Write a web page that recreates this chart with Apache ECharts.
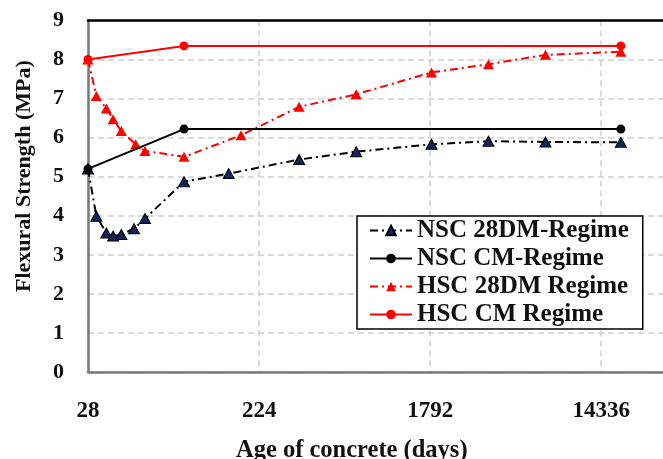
<!DOCTYPE html>
<html>
<head>
<meta charset="utf-8">
<script src="https://cdn.jsdelivr.net/npm/echarts@6/dist/echarts.min.js"></script>
<style>
html,body{margin:0;padding:0;background:#fff;}
#c{width:663px;height:459px;}
</style>
</head>
<body>
<div id="c"></div>
<script>
// Data
const seriesNames = ['NSC 28DM-Regime', 'NSC CM-Regime', 'HSC 28DM Regime', 'HSC CM Regime'];
const xTicks = [28, 224, 1792, 14336];
const yTicks = [0, 1, 2, 3, 4, 5, 6, 7, 8, 9];

const nsc28Days = [28, 31, 35, 38, 42, 49, 56, 90, 155, 365, 730, 1825, 3650, 7300, 18250];
const nsc28Vals = [5.2, 3.99, 3.56, 3.48, 3.52, 3.67, 3.93, 4.87, 5.08, 5.44, 5.64, 5.83, 5.91, 5.89, 5.88];

const nscCmDays = [28, 90, 18250];
const nscCmVals = [5.2, 6.22, 6.22];

const hsc28Days = [28, 31, 35, 38, 42, 50, 56, 90, 180, 365, 730, 1825, 3650, 7300, 18250];
const hsc28Vals = [8.0, 7.07, 6.75, 6.47, 6.17, 5.83, 5.66, 5.51, 6.06, 6.79, 7.11, 7.67, 7.88, 8.12, 8.2];

const hscCmDays = [28, 90, 18250];
const hscCmVals = [8.0, 8.35, 8.35];

function pairs(xs, ys) { return xs.map((x, i) => [x, ys[i]]); }
function tickLabel(v) {
  // show the nearest reference tick label (log scale rounds tick values slightly)
  let best = '', bestD = Infinity;
  xTicks.forEach(t => {
    const d = Math.abs(Math.log2(v) - Math.log2(t));
    if (d < bestD) { bestD = d; best = String(t); }
  });
  return bestD < 0.05 ? best : '';
}

const FONT = 'Liberation Serif';
const dashDot = [8, 4, 2, 4];

const chart = echarts.init(document.getElementById('c'), null, {renderer: 'canvas'});
chart.setOption({
  animation: false,
  backgroundColor: '#ffffff',
  grid: {
    left: 88, top: 20.5, bottom: 87, right: -52,
    outerBoundsMode: 'none',
    containLabel: false
  },
  xAxis: [
    {
      type: 'log',
      logBase: 2,
      min: xTicks[0],
      max: 57344,
      interval: 3,
      axisLine: {show: true, lineStyle: {color: '#7a7a7a', width: 2.5}},
      axisTick: {show: false},
      splitLine: {show: true, lineStyle: {color: '#cfcfcf', type: [6, 4], width: 1.5}},
      axisLabel: {
        margin: 28,
        fontFamily: FONT, fontWeight: 'bold', fontSize: 23, color: '#111',
        formatter: tickLabel
      }
    },
    {
      type: 'log',
      logBase: 2,
      position: 'top',
      min: xTicks[0],
      max: 57344,
      interval: 3,
      z: 3,
      axisLine: {show: true, onZero: false, lineStyle: {color: '#000', width: 2.5}},
      axisTick: {show: false},
      axisLabel: {show: false},
      splitLine: {show: false}
    }
  ],
  yAxis: {
    type: 'value',
    min: yTicks[0], max: yTicks[yTicks.length - 1], interval: 1,
    axisLine: {show: true, lineStyle: {color: '#7a7a7a', width: 2.5}},
    axisTick: {show: false},
    splitLine: {show: true, lineStyle: {color: '#cfcfcf', type: [6, 4], width: 1.5}},
    axisLabel: {
      margin: 24,
      fontFamily: FONT, fontWeight: 'bold', fontSize: 22, color: '#111'
    }
  },
  legend: {
    orient: 'vertical',
    left: 357, top: 216,
    padding: [2, 14, 2, 12],
    itemGap: 3,
    itemWidth: 42, itemHeight: 12,
    itemTextGap: 6,
    backgroundColor: '#fff',
    borderColor: '#000', borderWidth: 1.5,
    textStyle: {fontFamily: FONT, fontWeight: 'bold', fontSize: 25, color: '#111', lineHeight: 25},
    data: seriesNames
  },
  graphic: [
    {
      type: 'text', left: 236, top: 438,
      style: {text: 'Age of concrete (days)', fontFamily: FONT, fontWeight: 'bold', fontSize: 24.5, fill: '#111'}
    },
    {
      type: 'text',
      rotation: Math.PI / 2,
      x: 24, y: 292,
      style: {text: 'Flexural Strength (MPa)', fontFamily: FONT, fontWeight: 'bold', fontSize: 22, fill: '#111',
              textAlign: 'left', textVerticalAlign: 'middle'}
    }
  ],
  series: [
    {
      name: seriesNames[0], type: 'line', z: 2,
      data: pairs(nsc28Days, nsc28Vals),
      symbol: 'triangle', symbolSize: [11, 10],
      lineStyle: {color: '#000', width: 2, type: dashDot},
      itemStyle: {color: '#14245a', borderColor: '#000', borderWidth: 1}
    },
    {
      name: seriesNames[1], type: 'line', z: 4,
      data: pairs(nscCmDays, nscCmVals),
      symbol: 'circle', symbolSize: 9,
      lineStyle: {color: '#000', width: 2},
      itemStyle: {color: '#000'}
    },
    {
      name: seriesNames[2], type: 'line', z: 3,
      data: pairs(hsc28Days, hsc28Vals),
      symbol: 'triangle', symbolSize: [11, 10],
      lineStyle: {color: '#ff0000', width: 2, type: dashDot},
      itemStyle: {color: '#ff0000'}
    },
    {
      name: seriesNames[3], type: 'line', z: 5,
      data: pairs(hscCmDays, hscCmVals),
      symbol: 'circle', symbolSize: 9,
      lineStyle: {color: '#ff0000', width: 2},
      itemStyle: {color: '#ff0000'}
    }
  ]
});
</script>
</body>
</html>
